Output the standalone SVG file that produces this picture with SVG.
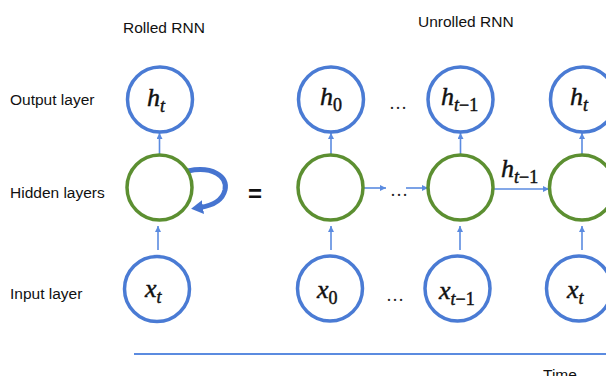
<svg xmlns="http://www.w3.org/2000/svg" width="606" height="376" viewBox="0 0 606 376">
<style>
.lbl{font-family:"Liberation Sans",Arial,sans-serif;font-size:15.5px;fill:#111}
.m{font-family:"Liberation Serif","Times New Roman",serif;font-style:italic;font-size:26px;fill:#111;stroke:#111;stroke-width:0.45}
.s{font-size:18px}
.r{font-style:normal}
.dots{font-family:"Liberation Serif",serif;font-size:18px;fill:#222}
.out,.inp{fill:#fff;stroke:#4A7BD4;stroke-width:3.5}
.hid{fill:#fff;stroke:#5C8F31;stroke-width:3.5}
.ar{stroke:#5B8BE0;stroke-width:1.6;fill:none;marker-end:url(#ah)}
</style>
<defs>
<marker id="ah" markerUnits="userSpaceOnUse" markerWidth="8" markerHeight="8" refX="6" refY="3" orient="auto">
<path d="M0,0 L6,3 L0,6 z" fill="#5B8BE0"/>
</marker>
<marker id="big" markerUnits="userSpaceOnUse" markerWidth="16" markerHeight="16" refX="3" refY="7" orient="auto">
<path d="M0,0 L12,7 L0,14 z" fill="#4674D0"/>
</marker>
</defs>

<text class="lbl" x="123" y="33">Rolled RNN</text>
<text class="lbl" x="418" y="27">Unrolled RNN</text>
<text class="lbl" x="10" y="105">Output layer</text>
<text class="lbl" x="10" y="198">Hidden layers</text>
<text class="lbl" x="10" y="299">Input layer</text>
<text class="lbl" x="543" y="380">Time</text>
<text x="255" y="202" text-anchor="middle" style="font-family:'Liberation Sans',Arial,sans-serif;font-weight:bold;font-size:24px;fill:#111">=</text>

<g id="connectors">
<line class="ar" x1="159.5" y1="155" x2="159.5" y2="133"/>
<line class="ar" x1="158" y1="250" x2="158" y2="226"/>
<path d="M188,171 C212,166 228,176 225,190 C222,202 210,206 200,207.5" fill="none" stroke="#4674D0" stroke-width="5" marker-end="url(#big)"/>
<line class="ar" x1="331" y1="155" x2="331" y2="133"/>
<line class="ar" x1="460.5" y1="155" x2="460.5" y2="133"/>
<line class="ar" x1="582" y1="155" x2="582" y2="133"/>
<line class="ar" x1="331" y1="250" x2="331" y2="226"/>
<line class="ar" x1="460" y1="250" x2="460" y2="226"/>
<line class="ar" x1="582" y1="250" x2="582" y2="226"/>
<line class="ar" x1="363" y1="188" x2="386" y2="188"/>
<line class="ar" x1="406" y1="188" x2="428" y2="188"/>
<line class="ar" x1="493" y1="189" x2="549" y2="189"/>
<line x1="134" y1="354" x2="606" y2="354" stroke="#5B8BE0" stroke-width="2"/>
</g>

<g id="rolled-out"><circle class="out" cx="160" cy="99.5" r="32.5"/><text class="m" x="147" y="106">h<tspan class="s" dy="6">t</tspan></text></g>
<g id="rolled-hid"><circle class="hid" cx="159.5" cy="187.5" r="32.5"/></g>
<g id="rolled-in"><circle class="inp" cx="157" cy="289" r="32.5"/><text class="m" x="145" y="297">x<tspan class="s" dy="6">t</tspan></text></g>

<g id="h0"><circle class="out" cx="331" cy="99.5" r="32.5"/><text class="m" x="320" y="105">h<tspan class="s r" dy="6">0</tspan></text></g>
<g id="ht1"><circle class="out" cx="460.5" cy="99.5" r="32.5"/><text class="m" x="441" y="105">h<tspan class="s" dy="6">t</tspan><tspan class="s r">−1</tspan></text></g>
<g id="ht"><circle class="out" cx="583" cy="99.5" r="32.5"/><text class="m" x="570" y="105">h<tspan class="s" dy="6">t</tspan></text></g>

<g id="s0"><circle class="hid" cx="330.5" cy="187.5" r="32.5"/></g>
<g id="st1"><circle class="hid" cx="460.5" cy="187.5" r="32.5"/></g>
<g id="st"><circle class="hid" cx="582" cy="187.5" r="32.5"/></g>

<g id="x0"><circle class="inp" cx="330" cy="288.5" r="32.5"/><text class="m" x="317" y="298">x<tspan class="s r" dy="6">0</tspan></text></g>
<g id="xt1"><circle class="inp" cx="457.5" cy="288.5" r="32.5"/><text class="m" x="439" y="299">x<tspan class="s" dy="6">t</tspan><tspan class="s r">−1</tspan></text></g>
<g id="xt"><circle class="inp" cx="579" cy="288.5" r="32.5"/><text class="m" x="567" y="298">x<tspan class="s" dy="6">t</tspan></text></g>

<g id="labels">
<text class="m" x="501" y="177">h<tspan class="s" dy="6">t</tspan><tspan class="s r">−1</tspan></text>
<text class="dots" x="398" y="109" text-anchor="middle">…</text>
<text class="dots" x="399" y="196" text-anchor="middle">…</text>
<text class="dots" x="395" y="301" text-anchor="middle">…</text>
</g>
</svg>
